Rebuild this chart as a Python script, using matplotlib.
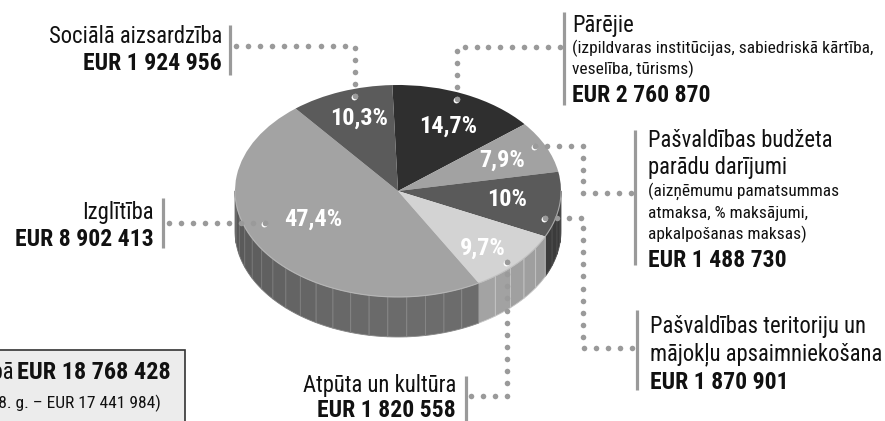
import numpy as np
import matplotlib
matplotlib.use("Agg")
import matplotlib.pyplot as plt
from matplotlib.patches import Wedge, Polygon, Rectangle
from matplotlib.transforms import Affine2D
from matplotlib import font_manager as fm

# ---------------- data ----------------
categories = ["Pārējie", "Pašvaldības budžeta parādu darījumi",
              "Pašvaldības teritoriju un mājokļu apsaimniekošana",
              "Atpūta un kultūra", "Izglītība", "Sociālā aizsardzība"]
values = [2760870, 1488730, 1870901, 1820558, 8902413, 1924956]
pct_labels = ["14,7%", "7,9%", "10%", "9,7%", "47,4%", "10,3%"]
amount_labels = ["EUR 2 760 870", "EUR 1 488 730", "EUR 1 870 901",
                 "EUR 1 820 558", "EUR 8 902 413", "EUR 1 924 956"]
total_label = "EUR 18 768 428"
prev_label = "(2018. g. – EUR 17 441 984)"

# ---------------- style ----------------
top_colors = ["#2f2f2f", "#a2a2a2", "#5a5a5a", "#d3d3d3", "#a3a3a3", "#5b5b5b"]
side_colors = ["#222222", "#7a7a7a", "#3e3e3e", "#a0a0a0", "#6a6a6a", "#444444"]

names = {f.name for f in fm.fontManager.ttflist}
narrow = [n for n in ["Liberation Sans Narrow", "Roboto Condensed", "Open Sans Condensed",
                      "DejaVu Sans Condensed", "Roboto", "Liberation Sans"] if n in names]
FONT = narrow + ["DejaVu Sans"]
plt.rcParams["font.family"] = FONT
plt.rcParams["font.stretch"] = "condensed"
TXT = "#111111"
DOT = "#9a9a9a"

W, H = 885, 421
fig = plt.figure(figsize=(W / 100, H / 100), dpi=100)
ax = fig.add_axes([0, 0, 1, 1])
ax.set_xlim(0, W)
ax.set_ylim(H, 0)
ax.axis("off")

cx, cy, a, b, depth = 398, 191, 163, 106, 40
start = 92.0
fr = np.array(values, float) / np.sum(values)
ends = start - 360 * np.cumsum(fr)
starts = np.concatenate([[start], ends[:-1]])

ell = Affine2D().scale(a, -b).translate(cx, cy) + ax.transData

def ept(t):
    t = np.radians(t)
    return cx + a * np.cos(t), cy - b * np.sin(t)

light = -70.0
for i in range(len(values)):
    t_hi, t_lo = starts[i], ends[i]
    for k in (-360, 0, 360):
        lo = max(t_lo + k, -180)
        hi = min(t_hi + k, 0)
        if hi <= lo:
            continue
        nf = max(1, int(np.ceil((hi - lo) / 7.0)))
        edges = np.linspace(lo, hi, nf + 1)
        base = np.array(matplotlib.colors.to_rgb(side_colors[i]))
        for j in range(nf):
            ts = np.linspace(edges[j], edges[j + 1], 6)
            xs, ys = ept(ts)
            poly = np.vstack([np.column_stack([xs, ys]),
                              np.column_stack([xs[::-1], ys[::-1] + depth])])
            mid = 0.5 * (edges[j] + edges[j + 1])
            f = 0.86 + 0.16 * np.cos(np.radians(mid - light))
            col = np.clip(base * f, 0, 1)
            ax.add_patch(Polygon(poly, closed=True, fc=col,
                                 ec=np.clip(col * 1.18 + 0.03, 0, 1), lw=0.6,
                                 zorder=1))

for i in range(len(values)):
    ax.add_patch(Wedge((0, 0), 1, ends[i], starts[i], fc=top_colors[i], ec="none",
                       transform=ell, zorder=2))
ts = np.linspace(-180, 0, 200)
xs, ys = ept(ts)
ax.plot(xs, ys, color="#bdbdbd", lw=0.8, zorder=3, alpha=0.8)

pct_pos = [(448, 133), (502, 167), (507, 206), (483, 255), (313, 226), (359, 125)]
for lbl, (x, y) in zip(pct_labels, pct_pos):
    ax.text(x, y, lbl, ha="center", va="baseline", color="white",
            fontsize=17.5, fontweight="bold", zorder=5)

def leader(pts, pie_end=True):
    pts = np.asarray(pts, float)
    seg = np.diff(pts, axis=0)
    L = np.hypot(seg[:, 0], seg[:, 1])
    cum = np.concatenate([[0], np.cumsum(L)])
    n = max(1, int(round(cum[-1] / 12.3)))
    s = np.linspace(0, cum[-1], n + 1)
    px = np.interp(s, cum, pts[:, 0])
    py = np.interp(s, cum, pts[:, 1])
    ax.plot(px, py, "o", ms=4.0, mfc=DOT, mec="none", zorder=6)
    if pie_end:
        ax.plot(px[0] - 0.6, py[0] + 1.2, "o", ms=4.2, mfc="white", mec="none", zorder=6)
        ax.plot(px[0], py[0], "o", ms=4.0, mfc=DOT, mec="none", zorder=7)

def bar(x, y0, y1):
    ax.plot([x, x], [y0, y1], color="#9a9a9a", lw=2.3, solid_capstyle="butt", zorder=6)

BIG, BOLD, SMALL = 16.3, 17, 12.5

leader([(355, 96), (355, 46), (236, 46)])
bar(230, 25, 75)
ax.text(222, 43, "Sociālā aizsardzība", ha="right", va="baseline", fontsize=BIG, color=TXT)
ax.text(222, 70, amount_labels[5], ha="right", va="baseline", fontsize=BOLD,
        fontweight="bold", color=TXT)

leader([(457, 99), (457, 47), (560, 47)])
bar(564, 12, 105)
ax.text(572, 32, "Pārējie", ha="left", va="baseline", fontsize=BIG, color=TXT)
ax.text(572, 53, "(izpildvaras institūcijas, sabiedriskā kārtība,", ha="left",
        va="baseline", fontsize=SMALL, color=TXT)
ax.text(572, 74, "veselība, tūrisms)", ha="left", va="baseline", fontsize=SMALL, color=TXT)
ax.text(572, 102, amount_labels[0], ha="left", va="baseline", fontsize=BOLD,
        fontweight="bold", color=TXT)

leader([(535, 146), (583, 146), (583, 193), (631, 193)])
bar(635, 130, 265)
ax.text(648, 147, "Pašvaldības budžeta", ha="left", va="baseline", fontsize=BIG, color=TXT)
ax.text(648, 174, "parādu darījumi", ha="left", va="baseline", fontsize=BIG, color=TXT)
ax.text(648, 196, "(aizņēmumu pamatsummas", ha="left", va="baseline", fontsize=SMALL, color=TXT)
ax.text(648, 218, "atmaksa, % maksājumi,", ha="left", va="baseline", fontsize=SMALL, color=TXT)
ax.text(648, 239, "apkalpošanas maksas)", ha="left", va="baseline", fontsize=SMALL, color=TXT)
ax.text(648, 267, amount_labels[1], ha="left", va="baseline", fontsize=BOLD,
        fontweight="bold", color=TXT)

leader([(545, 218), (583, 218), (583, 348), (632, 348)])
bar(637, 310, 390)
ax.text(650, 333, "Pašvaldības teritoriju un", ha="left", va="baseline", fontsize=BIG, color=TXT)
ax.text(650, 360, "mājokļu apsaimniekošana", ha="left", va="baseline", fontsize=BIG, color=TXT)
ax.text(650, 389, amount_labels[2], ha="left", va="baseline", fontsize=BOLD,
        fontweight="bold", color=TXT)

leader([(265, 223), (169, 223)])
bar(163, 198, 248)
ax.text(154, 219, "Izglītība", ha="right", va="baseline", fontsize=BIG, color=TXT)
ax.text(154, 246, amount_labels[4], ha="right", va="baseline", fontsize=BOLD,
        fontweight="bold", color=TXT)

leader([(507, 262), (507, 396), (471, 396)])
bar(466, 376, 421)
ax.text(456, 392, "Atpūta un kultūra", ha="right", va="baseline", fontsize=BIG, color=TXT)
ax.text(456, 417, amount_labels[3], ha="right", va="baseline", fontsize=BOLD,
        fontweight="bold", color=TXT)

ax.add_patch(Rectangle((-10, 350), 195, 90, fc="#ececec", ec="#333333", lw=1.2, zorder=4))
tb = ax.text(171, 379, total_label, ha="right", va="baseline", fontsize=BOLD + 0.5,
             fontweight="bold", color=TXT, zorder=5)
fig.canvas.draw()
bb = tb.get_window_extent(fig.canvas.get_renderer())
x_left = ax.transData.inverted().transform((bb.x0, bb.y0))[0]
ax.text(x_left - 4, 379, "Kopā", ha="right", va="baseline", fontsize=BIG, color=TXT, zorder=5)
ax.text(161, 408, prev_label, ha="right", va="baseline", fontsize=SMALL, color=TXT, zorder=5)

fig.savefig("out.png", dpi=100)
